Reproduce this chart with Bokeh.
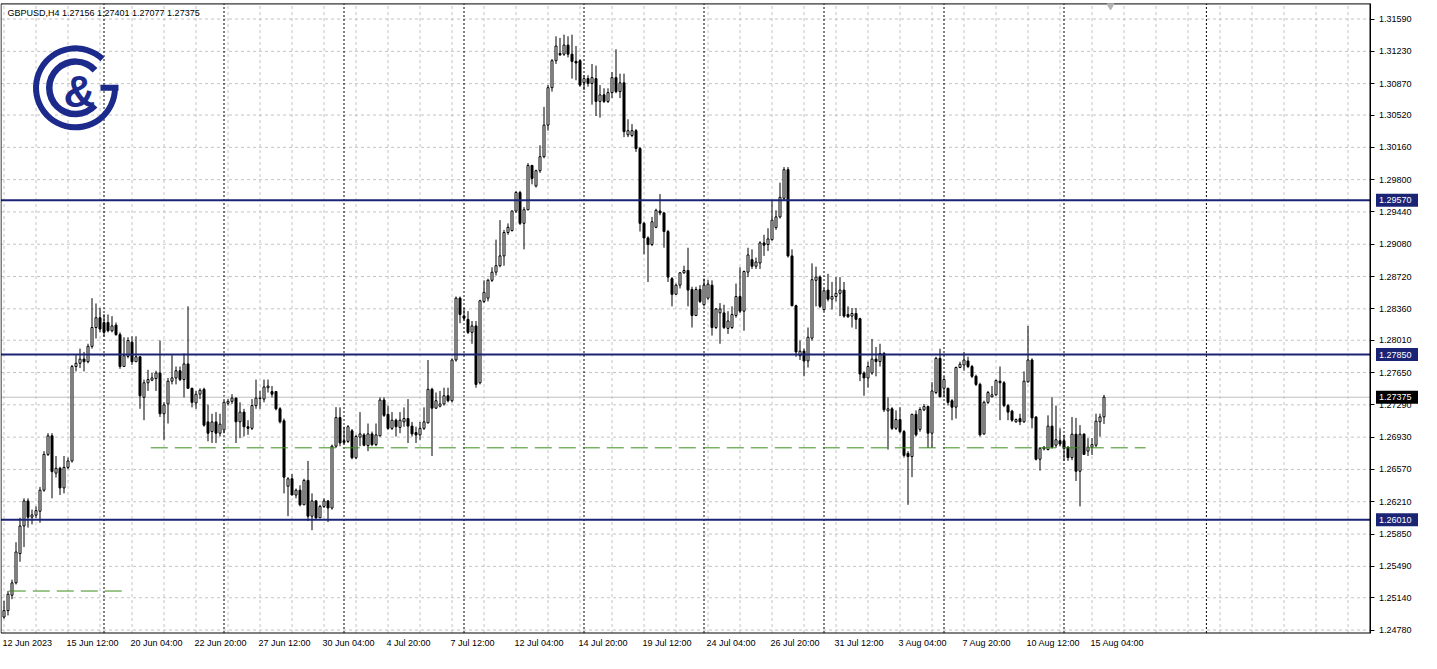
from math import radians
from bokeh.plotting import figure
from bokeh.models import FixedTicker, NumeralTickFormatter, LinearAxis, ColumnDataSource
from bokeh.core.properties import value
from bokeh.embed import file_html
from bokeh.resources import INLINE

# ---------------- data (GBPUSD H4) ----------------
symbol = "GBPUSD,H4"
opens = [
    1.24925, 1.24997, 1.25168, 1.25306, 1.25632, 1.25940, 1.26219, 1.26038, 1.26060, 1.26104,
    1.26339, 1.26738, 1.26945, 1.26528, 1.26582, 1.26364, 1.26593, 1.26665, 1.27717, 1.27753,
    1.27800, 1.27771, 1.27942, 1.28152, 1.28261, 1.28207, 1.28207, 1.28116, 1.28178, 1.28073,
    1.27717, 1.27830, 1.27989, 1.27771, 1.27826, 1.27373, 1.27536, 1.27565, 1.27583, 1.27645,
    1.27191, 1.27300, 1.27554, 1.27590, 1.27670, 1.27572, 1.27746, 1.27474, 1.27311, 1.27409,
    1.27463, 1.27100, 1.26992, 1.27100, 1.26974, 1.27010, 1.27307, 1.27329, 1.27365, 1.27101,
    1.27209, 1.27046, 1.27028, 1.27282, 1.27360, 1.27354, 1.27481, 1.27438, 1.27438, 1.27246,
    1.27112, 1.26383, 1.26466, 1.26285, 1.26339, 1.26176, 1.26448, 1.26049, 1.26219, 1.26031,
    1.26158, 1.26219, 1.26140, 1.26829, 1.27148, 1.26890, 1.26883, 1.27000, 1.26700, 1.26930,
    1.26955, 1.26836, 1.26966, 1.26847, 1.26945, 1.27344, 1.27184, 1.27028, 1.27119, 1.27039,
    1.27100, 1.27137, 1.27053, 1.26981, 1.26955, 1.27028, 1.27090, 1.27463, 1.27253, 1.27275,
    1.27300, 1.27391, 1.27336, 1.27790, 1.28479, 1.28280, 1.28243, 1.28098, 1.28170, 1.27536,
    1.28443, 1.28479, 1.28678, 1.28769, 1.28841, 1.28950, 1.29211, 1.29233, 1.29450, 1.29657,
    1.29313, 1.29465, 1.29958, 1.29730, 1.29900, 1.30056, 1.30408, 1.30825, 1.31126, 1.31206,
    1.31198, 1.31300, 1.31198, 1.31119, 1.31126, 1.30881, 1.30926, 1.30872, 1.30926, 1.30672,
    1.30745, 1.30672, 1.30770, 1.30937, 1.30781, 1.30879, 1.30300, 1.30292, 1.30346, 1.30147,
    1.29313, 1.29150, 1.29077, 1.29269, 1.29450, 1.29429, 1.29222, 1.28696, 1.28522, 1.28624,
    1.28762, 1.28787, 1.28576, 1.28286, 1.28576, 1.28406, 1.28479, 1.28624, 1.28152, 1.28315,
    1.28315, 1.28142, 1.28152, 1.28286, 1.28497, 1.28334, 1.28769, 1.28908, 1.28835, 1.28871,
    1.29095, 1.29077, 1.29131, 1.29265, 1.29385, 1.29592, 1.29911, 1.28950, 1.28395, 1.27837,
    1.27888, 1.27779, 1.28033, 1.28678, 1.28714, 1.28352, 1.28569, 1.28468, 1.28497, 1.28533,
    1.28569, 1.28297, 1.28279, 1.28308, 1.28250, 1.27645, 1.27590, 1.27645, 1.27800, 1.27772,
    1.27862, 1.27224, 1.27246, 1.27028, 1.27126, 1.26992, 1.26749, 1.26713, 1.27184, 1.27017,
    1.27235, 1.27271, 1.26974, 1.27427, 1.27808, 1.27474, 1.27474, 1.27336, 1.27264, 1.27706,
    1.27735, 1.27779, 1.27717, 1.27608, 1.27518, 1.26966, 1.27318, 1.27380, 1.27402, 1.27554,
    1.27536, 1.27282, 1.27220, 1.27101, 1.27137, 1.27101, 1.27547, 1.27790, 1.27155, 1.26684,
    1.26800, 1.26792, 1.27053, 1.26840, 1.26890, 1.26890, 1.26818, 1.26702, 1.26963, 1.26550,
    1.26963, 1.26774, 1.26818, 1.26840, 1.27101, 1.27156]
highs = [
    1.25106, 1.25215, 1.25342, 1.25759, 1.26031, 1.26248, 1.26248, 1.26122, 1.26158, 1.26375,
    1.26774, 1.26974, 1.26974, 1.26720, 1.26600, 1.26720, 1.26702, 1.27735, 1.27844, 1.27917,
    1.27880, 1.27971, 1.28479, 1.28420, 1.28370, 1.28300, 1.28297, 1.28279, 1.28207, 1.28098,
    1.28043, 1.28043, 1.28054, 1.28054, 1.27826, 1.27572, 1.27681, 1.27645, 1.27670, 1.28007,
    1.27318, 1.27590, 1.27844, 1.27717, 1.27717, 1.27862, 1.28388, 1.27481, 1.27445, 1.27474,
    1.27481, 1.27293, 1.27191, 1.27209, 1.27191, 1.27336, 1.27354, 1.27409, 1.27373, 1.27318,
    1.27246, 1.27119, 1.27354, 1.27572, 1.27445, 1.27572, 1.27572, 1.27500, 1.27445, 1.27264,
    1.27137, 1.26484, 1.26521, 1.26357, 1.26394, 1.26466, 1.26665, 1.26303, 1.26230, 1.26176,
    1.26248, 1.26230, 1.26847, 1.27264, 1.27262, 1.27046, 1.27064, 1.27020, 1.26955, 1.27209,
    1.26974, 1.27082, 1.26992, 1.27082, 1.27373, 1.27373, 1.27282, 1.27209, 1.27137, 1.27209,
    1.27262, 1.27354, 1.27100, 1.27046, 1.27100, 1.27262, 1.27790, 1.27481, 1.27427, 1.27445,
    1.27481, 1.27481, 1.27808, 1.28497, 1.28497, 1.28370, 1.28334, 1.28225, 1.28225, 1.28461,
    1.28678, 1.28696, 1.28823, 1.29131, 1.29349, 1.29240, 1.29312, 1.29457, 1.29675, 1.29675,
    1.29494, 1.29984, 1.29965, 1.29911, 1.30183, 1.30611, 1.30854, 1.31144, 1.31398, 1.31380,
    1.31416, 1.31398, 1.31416, 1.31289, 1.31144, 1.30963, 1.30963, 1.31089, 1.31071, 1.30854,
    1.30818, 1.30818, 1.30999, 1.31253, 1.30981, 1.30981, 1.30473, 1.30419, 1.30364, 1.30165,
    1.29331, 1.29168, 1.29385, 1.29476, 1.29639, 1.29440, 1.29240, 1.28714, 1.28642, 1.28769,
    1.28841, 1.29041, 1.28606, 1.28606, 1.28624, 1.28696, 1.28685, 1.28678, 1.28370, 1.28424,
    1.28406, 1.28334, 1.28388, 1.28642, 1.28823, 1.28787, 1.29041, 1.29023, 1.28932, 1.29113,
    1.29186, 1.29258, 1.29567, 1.29458, 1.29766, 1.29940, 1.29940, 1.29023, 1.28406, 1.28007,
    1.27917, 1.28152, 1.28867, 1.28830, 1.28732, 1.28587, 1.28751, 1.28660, 1.28714, 1.28714,
    1.28660, 1.28388, 1.28370, 1.28370, 1.28261, 1.27663, 1.27771, 1.28025, 1.27935, 1.27971,
    1.27880, 1.27373, 1.27264, 1.27228, 1.27264, 1.27010, 1.26774, 1.27191, 1.27228, 1.27264,
    1.27300, 1.27282, 1.27543, 1.27826, 1.27916, 1.27608, 1.27481, 1.27354, 1.27717, 1.27771,
    1.27880, 1.27826, 1.27735, 1.27626, 1.27536, 1.27336, 1.27445, 1.27500, 1.27572, 1.27717,
    1.27554, 1.27300, 1.27235, 1.27137, 1.27191, 1.27663, 1.28170, 1.27808, 1.27162, 1.26818,
    1.26829, 1.27173, 1.27373, 1.27282, 1.27028, 1.26956, 1.26829, 1.27155, 1.27144, 1.27064,
    1.26974, 1.26919, 1.26919, 1.27191, 1.27191, 1.27401]
lows = [
    1.24907, 1.24943, 1.25124, 1.25288, 1.25541, 1.25705, 1.25922, 1.25958, 1.26031, 1.25976,
    1.26321, 1.26720, 1.26248, 1.26480, 1.26285, 1.26303, 1.26575, 1.26647, 1.27663, 1.27700,
    1.27663, 1.27753, 1.27917, 1.28030, 1.28100, 1.28050, 1.28098, 1.28098, 1.28060, 1.27692,
    1.27717, 1.27808, 1.27735, 1.27771, 1.27246, 1.27119, 1.27445, 1.27554, 1.27445, 1.27155,
    1.26901, 1.27082, 1.27518, 1.27518, 1.27554, 1.27373, 1.27474, 1.27262, 1.27246, 1.27354,
    1.27046, 1.26883, 1.26865, 1.26865, 1.26937, 1.26974, 1.27282, 1.27300, 1.26865, 1.26919,
    1.26938, 1.26956, 1.27010, 1.27246, 1.27246, 1.27318, 1.27427, 1.27373, 1.27228, 1.27083,
    1.26303, 1.26049, 1.26285, 1.26248, 1.26158, 1.26176, 1.25995, 1.25893, 1.26013, 1.26031,
    1.26140, 1.25984, 1.26122, 1.26811, 1.26829, 1.26847, 1.26865, 1.26684, 1.26684, 1.26829,
    1.26829, 1.26774, 1.26829, 1.26829, 1.26937, 1.27155, 1.27010, 1.27010, 1.26937, 1.26974,
    1.27046, 1.26865, 1.26937, 1.26865, 1.26901, 1.27010, 1.27082, 1.26720, 1.27246, 1.27262,
    1.27282, 1.27318, 1.27318, 1.27772, 1.28200, 1.28230, 1.28080, 1.27971, 1.27481, 1.27518,
    1.28424, 1.28443, 1.28660, 1.28732, 1.28823, 1.28841, 1.29186, 1.29222, 1.29428, 1.29294,
    1.29023, 1.29458, 1.29748, 1.29712, 1.29875, 1.30038, 1.30346, 1.30781, 1.31090, 1.31180,
    1.31180, 1.31162, 1.30926, 1.30908, 1.30836, 1.30800, 1.30836, 1.30636, 1.30509, 1.30491,
    1.30654, 1.30654, 1.30709, 1.30763, 1.30709, 1.30274, 1.30274, 1.30274, 1.30110, 1.29222,
    1.28968, 1.28660, 1.29059, 1.29258, 1.29403, 1.29041, 1.28660, 1.28388, 1.28515, 1.28587,
    1.28751, 1.28388, 1.28152, 1.28279, 1.28424, 1.28388, 1.28460, 1.28062, 1.28135, 1.27971,
    1.28135, 1.28080, 1.28135, 1.28261, 1.28315, 1.28116, 1.28714, 1.28805, 1.28805, 1.28805,
    1.28950, 1.29005, 1.29121, 1.29240, 1.29367, 1.29567, 1.28932, 1.28388, 1.27826, 1.27790,
    1.27608, 1.27706, 1.28007, 1.28388, 1.28370, 1.28334, 1.28443, 1.28352, 1.28443, 1.28279,
    1.28261, 1.28261, 1.28152, 1.28134, 1.27554, 1.27391, 1.27481, 1.27626, 1.27608, 1.27717,
    1.27210, 1.26792, 1.27010, 1.27010, 1.26974, 1.26702, 1.26176, 1.26484, 1.26937, 1.26990,
    1.27220, 1.26810, 1.26810, 1.27409, 1.27373, 1.27373, 1.27282, 1.27119, 1.27137, 1.27699,
    1.27670, 1.27699, 1.27590, 1.27500, 1.26937, 1.26956, 1.27300, 1.27373, 1.27391, 1.27119,
    1.27264, 1.27119, 1.27101, 1.27090, 1.27064, 1.27090, 1.27536, 1.27028, 1.26670, 1.26557,
    1.26782, 1.26782, 1.26803, 1.26811, 1.26829, 1.26666, 1.26666, 1.26673, 1.26441, 1.26158,
    1.26731, 1.26720, 1.26731, 1.26818, 1.26937, 1.27077]
closes = [
    1.24997, 1.25179, 1.25306, 1.25650, 1.25940, 1.26219, 1.26038, 1.26063, 1.26111, 1.26339,
    1.26738, 1.26945, 1.26546, 1.26582, 1.26364, 1.26593, 1.26665, 1.27717, 1.27753, 1.27800,
    1.27771, 1.27942, 1.28152, 1.28261, 1.28134, 1.28098, 1.28116, 1.28170, 1.28073, 1.27717,
    1.27837, 1.28007, 1.27771, 1.27826, 1.27391, 1.27536, 1.27572, 1.27590, 1.27645, 1.27191,
    1.27289, 1.27554, 1.27590, 1.27670, 1.27572, 1.27746, 1.27474, 1.27318, 1.27409, 1.27452,
    1.27064, 1.26974, 1.27100, 1.26974, 1.27075, 1.27318, 1.27329, 1.27365, 1.27101, 1.27209,
    1.27046, 1.27028, 1.27282, 1.27365, 1.27365, 1.27489, 1.27500, 1.27409, 1.27246, 1.27101,
    1.26484, 1.26466, 1.26285, 1.26339, 1.26176, 1.26448, 1.26049, 1.26219, 1.26031, 1.26158,
    1.26219, 1.26140, 1.26829, 1.27148, 1.26865, 1.26872, 1.27046, 1.26700, 1.26937, 1.26966,
    1.26840, 1.26966, 1.26847, 1.26955, 1.27344, 1.27173, 1.27028, 1.27119, 1.27046, 1.27119,
    1.27137, 1.27053, 1.26966, 1.26955, 1.27028, 1.27100, 1.27463, 1.27253, 1.27336, 1.27300,
    1.27391, 1.27336, 1.27790, 1.28479, 1.28297, 1.28255, 1.28098, 1.28170, 1.27518, 1.28450,
    1.28544, 1.28678, 1.28769, 1.28841, 1.28950, 1.29211, 1.29269, 1.29450, 1.29657, 1.29313,
    1.29465, 1.29958, 1.29813, 1.29900, 1.30056, 1.30408, 1.30825, 1.31126, 1.31289, 1.31191,
    1.31300, 1.31198, 1.31118, 1.31100, 1.30854, 1.30926, 1.30872, 1.30937, 1.30672, 1.30745,
    1.30672, 1.30770, 1.30937, 1.30781, 1.30879, 1.30335, 1.30346, 1.30346, 1.30147, 1.29313,
    1.29150, 1.29077, 1.29331, 1.29458, 1.29429, 1.29222, 1.28714, 1.28522, 1.28624, 1.28762,
    1.28787, 1.28569, 1.28286, 1.28576, 1.28442, 1.28624, 1.28635, 1.28152, 1.28359, 1.28359,
    1.28152, 1.28225, 1.28297, 1.28497, 1.28334, 1.28776, 1.28961, 1.28835, 1.28882, 1.29095,
    1.29070, 1.29139, 1.29349, 1.29385, 1.29603, 1.29911, 1.28950, 1.28395, 1.27880, 1.27888,
    1.27779, 1.28044, 1.28685, 1.28714, 1.28388, 1.28562, 1.28468, 1.28497, 1.28533, 1.28569,
    1.28279, 1.28272, 1.28308, 1.28243, 1.27634, 1.27590, 1.27717, 1.27800, 1.27772, 1.27862,
    1.27235, 1.27246, 1.27028, 1.27126, 1.26992, 1.26727, 1.26713, 1.27184, 1.26956, 1.27238,
    1.27271, 1.26974, 1.27445, 1.27808, 1.27380, 1.27572, 1.27318, 1.27264, 1.27706, 1.27742,
    1.27790, 1.27717, 1.27608, 1.27518, 1.26956, 1.27318, 1.27427, 1.27402, 1.27561, 1.27536,
    1.27282, 1.27209, 1.27119, 1.27126, 1.27101, 1.27554, 1.27790, 1.27144, 1.26684, 1.26803,
    1.26818, 1.27053, 1.26818, 1.26901, 1.26854, 1.26803, 1.26702, 1.26963, 1.26550, 1.26963,
    1.26738, 1.26818, 1.26847, 1.27108, 1.27155, 1.27375]

date_tick_index = [0, 16, 32, 48, 64, 80, 96, 112, 128, 144, 160, 176, 192, 208, 224, 240, 256, 272]
date_tick_labels = ["12 Jun 2023", "15 Jun 12:00", "20 Jun 04:00", "22 Jun 20:00", "27 Jun 12:00",
                    "30 Jun 04:00", "4 Jul 20:00", "7 Jul 12:00", "12 Jul 04:00", "14 Jul 20:00",
                    "19 Jul 12:00", "24 Jul 04:00", "26 Jul 20:00", "31 Jul 12:00", "3 Aug 04:00",
                    "7 Aug 20:00", "10 Aug 12:00", "15 Aug 04:00"]
price_ticks = [1.31590, 1.31230, 1.30870, 1.30520, 1.30160, 1.29800, 1.29440, 1.29080, 1.28720,
               1.28360, 1.28010, 1.27650, 1.27290, 1.26930, 1.26570, 1.26210, 1.25850, 1.25490,
               1.25140, 1.24780]
week_separators = [25, 55, 85, 115, 145, 175, 205, 235, 265, 300.6]
level_prices = [1.29570, 1.27850, 1.26010]
support_prices = [1.26811, 1.25215]
support_start = [36.7, 1.2]
support_end = [285.4, 31.2]

# ---------------- layout / style ----------------
W, H = 1421, 653
SX = 4.0                                   # screen px per bar (as in the terminal)
XL = -0.875                                # bar i centred at 3.5 + 4 i px
XR = XL + W / SX
AXIS_W = 52                                # price-axis strip width in px


def rx(px):
    """horizontal position in px from the chart's left edge -> bar units"""
    return XL + px / SX


def ry(py):
    """vertical position in reference px -> price"""
    return 1.31590 - (py - 19.0) * 0.00010879


YT, YB = ry(0), ry(669)
SY = (YT - YB) / H                         # price per screen px
CH_L, CH_R = rx(0.5), rx(W - AXIS_W + 0.5)
CH_T, CH_B = ry(3.5), ry(648)

NAVY = "#1b2375"
LOGO = "#1c2a8c"
GREEN = "#3c8c1c"
GRID = "#c4c4c4"
FONT = "Liberation Sans"

p = figure(width=W, height=H, x_range=(XL, XR), y_range=(YB, YT),
           x_axis_location=None, y_axis_location=None,
           output_backend="svg", toolbar_location=None,
           min_border_left=0, min_border_right=0, min_border_top=0, min_border_bottom=0)
p.grid.visible = False
p.background_fill_color = "white"
p.border_fill_color = "white"
p.outline_line_color = None

# grid (inside the chart area only)
gx = [g for g in range(0, 400, 8) if g < CH_R]
p.segment(x0=gx, y0=[CH_B] * len(gx), x1=gx, y1=[CH_T] * len(gx),
          line_color=GRID, line_width=1, line_dash="3 3")
p.segment(x0=[CH_L] * len(price_ticks), y0=price_ticks, x1=[CH_R] * len(price_ticks),
          y1=price_ticks, line_color=GRID, line_width=1, line_dash="3 3")

# weekly separators and bid line
p.segment(x0=week_separators, y0=[CH_B] * len(week_separators), x1=week_separators,
          y1=[CH_T] * len(week_separators), line_color="black", line_width=1, line_dash="2 2")
p.segment(x0=[CH_L], y0=[closes[-1]], x1=[CH_R], y1=[closes[-1]],
          line_color="#c0c0c0", line_width=1)

# candles
idx = list(range(len(opens)))
up = [c >= o for o, c in zip(opens, closes)]
src_all = ColumnDataSource(dict(x=idx, h=highs, l=lows))
src_up = ColumnDataSource(dict(x=[i for i in idx if up[i]],
                               o=[opens[i] for i in idx if up[i]],
                               c=[closes[i] for i in idx if up[i]]))
src_dn = ColumnDataSource(dict(x=[i for i in idx if not up[i]],
                               o=[opens[i] for i in idx if not up[i]],
                               c=[closes[i] for i in idx if not up[i]]))
p.segment(x0="x", y0="l", x1="x", y1="h", source=src_all, line_color="black", line_width=1)
p.vbar(x="x", bottom="o", top="c", width=0.5, source=src_up,
       fill_color="white", line_color="black", line_width=1)
p.vbar(x="x", bottom="c", top="o", width=0.5, source=src_dn,
       fill_color="black", line_color="black", line_width=1)

# horizontal levels and support lines
p.segment(x0=[CH_L] * len(level_prices), y0=level_prices, x1=[CH_R] * len(level_prices),
          y1=level_prices, line_color=NAVY, line_width=2)
p.segment(x0=support_start, y0=support_prices, x1=support_end, y1=support_prices,
          line_color=GREEN, line_width=1, line_dash="17 7")

# chart border
p.quad(left=[CH_L], right=[CH_R], bottom=[CH_B], top=[CH_T],
       fill_color=None, line_color="black", line_width=1)

# price axis (pinned to the right edge of the chart)
yax = LinearAxis(fixed_location=CH_R, bounds=(CH_B, CH_T),
                 ticker=FixedTicker(ticks=price_ticks),
                 formatter=NumeralTickFormatter(format="0.00000"))
yax.major_label_text_font = FONT
yax.major_label_text_font_size = "9px"
yax.major_label_text_color = "black"
yax.axis_line_color = "black"
yax.major_tick_out = 4
yax.major_tick_in = 0
yax.major_tick_line_color = "black"
yax.minor_tick_line_color = None
yax.major_label_standoff = 5
p.add_layout(yax, "right")

# time axis (pinned to the bottom edge of the chart); labels start at their bar
CW = {ch: 0.556 for ch in "0123456789"}
CW.update({" ": 0.278, ":": 0.278, "J": 0.5, "u": 0.556, "n": 0.556, "l": 0.222,
           "A": 0.667, "g": 0.556})


def text_w(s, size=9.0):
    return size * sum(CW.get(ch, 0.556) for ch in s)


shifted = [round(i + (text_w(t) / 2.0 - 1.5) / SX, 3)
           for i, t in zip(date_tick_index, date_tick_labels)]
xax = LinearAxis(fixed_location=CH_B, ticker=FixedTicker(ticks=shifted))
xax.major_label_overrides = {s: t for s, t in zip(shifted, date_tick_labels)}
xax.major_label_text_font = FONT
xax.major_label_text_font_size = "9px"
xax.major_label_text_color = "black"
xax.axis_line_color = None
xax.major_tick_line_color = None
xax.minor_tick_line_color = None
xax.major_tick_out = 0
xax.major_tick_in = 0
xax.major_label_standoff = 5
p.add_layout(xax, "below")

# price tags on the axis
tag_l = CH_R + 6 / SX
tag_r = CH_R + 48 / SX
tag_tx = CH_R + 9 / SX
tag_prices = level_prices + [closes[-1]]
tag_colors = [NAVY] * len(level_prices) + ["black"]
p.quad(left=[tag_l] * len(tag_prices), right=[tag_r] * len(tag_prices),
       bottom=[v - 6.5 * SY for v in tag_prices], top=[v + 6.5 * SY for v in tag_prices],
       fill_color=tag_colors, line_color=None, level="overlay")
p.text(x=[tag_tx] * len(tag_prices), y=tag_prices, text=[f"{v:.5f}" for v in tag_prices],
       text_color="white", text_font=value(FONT), text_font_size=value("9px"),
       text_baseline="middle", text_align="left", level="overlay")

# header
header = f"{symbol}  {opens[-1]:.5f} {highs[-1]:.5f} {lows[-1]:.5f} {closes[-1]:.5f}"
p.text(x=[rx(7)], y=[ry(12.5)], text=[header], text_font=value(FONT),
       text_font_size=value("9px"), text_color="black", text_baseline="middle",
       text_align="left")

# chart-shift marker
p.scatter(x=[rx(1110)], y=[ry(5.5)], marker="inverted_triangle", size=7,
          fill_color="#b4b4b4", line_color="#b4b4b4")

# logo
cx, cy = rx(75), ry(89.5)
p.annular_wedge(x=[cx], y=[cy], inner_radius=36.5, outer_radius=42.5,
                inner_radius_units="screen", outer_radius_units="screen",
                start_angle=radians(47), end_angle=radians(360), direction="anticlock",
                fill_color=LOGO, line_color=None)
p.annular_wedge(x=[cx], y=[cy], inner_radius=23, outer_radius=29.5,
                inner_radius_units="screen", outer_radius_units="screen",
                start_angle=radians(42), end_angle=radians(318), direction="anticlock",
                fill_color=LOGO, line_color=None)
p.rect(x=[rx(109)], y=[cy], width=18, height=6,
       width_units="screen", height_units="screen", fill_color=LOGO, line_color=None)
p.text(x=[rx(79)], y=[ry(93)], text=["&"], text_font=value(FONT), text_font_style="bold",
       text_font_size=value("44px"), text_color=LOGO, text_align="center",
       text_baseline="middle")

open("out.html", "w").write(file_html(p, INLINE))
